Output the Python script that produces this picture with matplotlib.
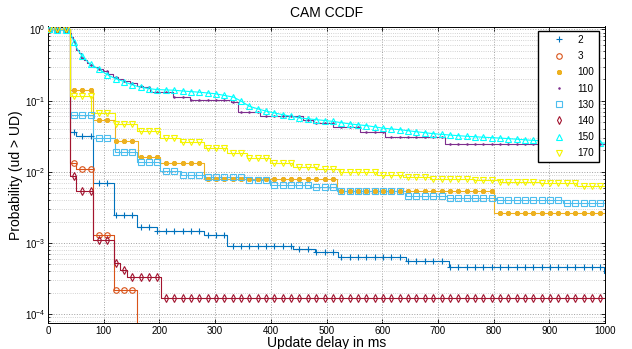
import numpy as np
import matplotlib
matplotlib.use('Agg')
import matplotlib.pyplot as plt
from matplotlib.ticker import LogLocator, NullFormatter, FixedLocator

plt.rcParams['font.family'] = ['Liberation Sans', 'DejaVu Sans']
plt.rcParams['mathtext.fontset'] = 'custom'
plt.rcParams['mathtext.rm'] = 'Liberation Sans'

labels = ['2', '3', '100', '110', '130', '140', '150', '170']

# Step CCDF breakpoints: delay (ms) and probability P(ud > UD)
x_2 = [0, 39, 50, 81, 119, 160, 196, 280, 321, 440, 479, 520, 642, 720, 998]
p_2 = [1.0, 0.036, 0.032, 0.0069, 0.00248, 0.00165, 0.00148, 0.0013, 0.00091,
       0.00082, 0.00074, 0.00064, 0.00056, 0.000457, 0.00038]

x_3 = [0, 39, 50, 81, 119, 160]
p_3 = [1.0, 0.0135, 0.0109, 0.0013, 0.000218, 0.0]

x_100 = [0, 39, 80, 120, 161, 201, 280, 519, 800]
p_100 = [1.0, 0.14, 0.0528, 0.0267, 0.0161, 0.0133, 0.008, 0.0053, 0.00267]

x_110 = [0, 36, 39, 42, 45, 48, 51, 55, 60, 65, 70, 75, 81, 90, 99, 108, 117, 126,
         135, 147, 159, 171, 183, 225, 255, 329, 341, 381, 458, 476, 512, 560, 605, 713]
p_110 = [1.0, 0.97, 0.9, 0.78, 0.68, 0.6, 0.52, 0.46, 0.4, 0.37, 0.34, 0.32, 0.30,
         0.28, 0.26, 0.235, 0.216, 0.2, 0.187, 0.175, 0.163, 0.155, 0.131, 0.114,
         0.101, 0.095, 0.069, 0.060, 0.054, 0.0484, 0.042, 0.0362, 0.0304, 0.0245]

x_130 = [0, 39, 80, 120, 160, 201, 238, 280, 358, 398, 470, 519, 642, 716, 805, 925]
p_130 = [1.0, 0.062, 0.0298, 0.0187, 0.0137, 0.0104, 0.0091, 0.0084, 0.0076,
         0.0066, 0.0061, 0.0053, 0.0046, 0.0043, 0.0040, 0.0037]

x_140 = [0, 39, 50, 81, 119, 130, 142, 202]
p_140 = [1.0, 0.0086, 0.0054, 0.0011, 0.00052, 0.00042, 0.000336, 0.00017]

x_150 = [0, 36, 39, 45, 51, 57, 63, 75, 90, 105, 120, 135, 150, 165, 180, 195, 225,
         250, 273, 300, 333, 345, 362, 378, 393, 421, 452, 482, 512, 542, 572, 602,
         632, 662, 692, 722, 752, 781, 811, 841, 871, 901, 931, 961, 1000]
p_150 = [1.0, 0.97, 0.93, 0.72, 0.56, 0.47, 0.41, 0.33, 0.28, 0.235, 0.205, 0.187,
         0.168, 0.155, 0.148, 0.143, 0.14, 0.135, 0.131, 0.125, 0.112, 0.1, 0.083,
         0.076, 0.0707, 0.0635, 0.057, 0.054, 0.051, 0.047, 0.0445, 0.041, 0.039,
         0.0365, 0.0343, 0.0328, 0.0315, 0.0306, 0.0298, 0.0287, 0.0276, 0.0268,
         0.026, 0.0257, 0.0253]

x_170 = [0, 39, 78, 120, 160, 201, 237, 280, 322, 357, 398, 440, 482, 524, 590, 638,
         686, 764, 811, 883, 949]
p_170 = [1.0, 0.115, 0.067, 0.0474, 0.0375, 0.030, 0.0259, 0.0215, 0.0183, 0.0158,
         0.0131, 0.0118, 0.011, 0.0100, 0.0091, 0.0084, 0.0080, 0.0077, 0.0073,
         0.0069, 0.0063]

xs = [x_2, x_3, x_100, x_110, x_130, x_140, x_150, x_170]
ps = [p_2, p_3, p_100, p_110, p_130, p_140, p_150, p_170]
steps = [True, True, True, True, True, True, False, True]

colors = ['#0072BD', '#D95319', '#EDB120', '#7E2F8E', '#4DBEEE', '#A2142F', '#00FFFF', '#F5F500']
markers = ['+', 'o', (8, 2, 0), '.', 's', 'd', '^', 'v']
msizes = [4.5, 4, 3.6, 2, 3.8, 4, 4.4, 4.4]
mews = [0.8, 0.8, 1.1, 0.8, 0.8, 0.8, 0.8, 0.8]
fills = ['none', 'none', None, None, 'none', 'none', 'none', 'none']

XMAX = 1000
marker_x = np.arange(1.5, XMAX, 15.0)

fig = plt.figure(figsize=(6.32, 3.49), dpi=100)
ax = fig.add_axes([48 / 632, 26 / 349, 557 / 632, 296.5 / 349])
ax.set_yscale('log', nonpositive='clip')

handles = []
for x, p, st, c, m, ms, mw, f, lab in zip(xs, ps, steps, colors, markers, msizes, mews, fills, labels):
    xa = np.array(x, dtype=float)
    pa = np.array(p, dtype=float)
    if st:
        xl = np.append(xa, XMAX)
        pl = np.append(pa, pa[-1])
        ax.plot(xl, pl, drawstyle='steps-post', color=c, lw=0.8, zorder=2)
        idx = np.searchsorted(xa, marker_x, side='right') - 1
        my = pa[idx]
    else:
        ax.plot(xa, pa, color=c, lw=0.8, zorder=2)
        my = 10 ** np.interp(marker_x, xa, np.log10(pa))
    ok = my > 0
    kw = dict(color=c, marker=m, ms=ms, mew=mw, linestyle='none', zorder=3)
    if f == 'none':
        kw['mfc'] = 'none'
    h, = ax.plot(marker_x[ok], my[ok], label=lab, **kw)
    handles.append(h)

ax.set_xlim(0, 1000)
ax.set_ylim(7.5e-5, 1.1)
ax.xaxis.set_major_locator(FixedLocator(np.arange(0, 1001, 100)))
ax.yaxis.set_major_locator(LogLocator(base=10, numticks=10))
ax.yaxis.set_minor_locator(LogLocator(base=10, subs=np.arange(2, 10), numticks=20))
ax.yaxis.set_minor_formatter(NullFormatter())

ax.grid(True, which='major', linestyle=':', color='#a0a0a0', lw=0.7)
ax.grid(True, which='minor', axis='y', linestyle=':', color='#c4c4c4', lw=0.6)
ax.set_axisbelow(True)
for s in ax.spines.values():
    s.set_linewidth(0.7)
ax.tick_params(which='both', direction='in', top=True, right=True, labelsize=7, pad=2)
ax.tick_params(which='major', length=3, width=0.6)
ax.tick_params(which='minor', length=1.7, width=0.5)

ax.set_title('CAM CCDF', fontsize=10, pad=7)
ax.set_xlabel('Update delay in ms', fontsize=10, labelpad=0)
ax.set_ylabel('Probability (ud > UD)', fontsize=10, labelpad=1)

leg = ax.legend(handles=handles, loc='upper right', bbox_to_anchor=(0.9885, 0.985),
                fontsize=7.2, frameon=True, fancybox=False, edgecolor='black',
                framealpha=1, borderpad=0.4, handlelength=3.5, handletextpad=0.1,
                labelspacing=0.62, borderaxespad=0)
leg.get_frame().set_linewidth(1.0)

fig.savefig('out.png', dpi=100)
